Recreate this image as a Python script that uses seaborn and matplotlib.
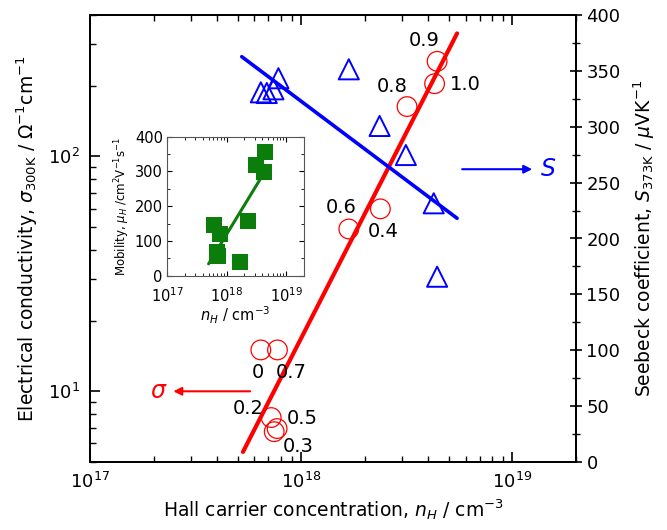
import numpy as np
import pandas as pd
import matplotlib
matplotlib.use("Agg")
import matplotlib.pyplot as plt
import seaborn as sns
from matplotlib.ticker import LogLocator, NullFormatter, MultipleLocator, FixedLocator

# ---------------- data ----------------
n_sigma = [6.44e17, 7.21e17, 7.45e17, 2.37e18, 7.69e17, 1.68e18, 7.72e17, 3.17e18, 4.40e18, 4.28e18]
sigma = [15.0, 7.73, 6.73, 59.8, 6.94, 49.1, 15.0, 163, 254, 204]
x_labels = ["0", "0.2", "0.3", "0.4", "0.5", "0.6", "0.7", "0.8", "0.9", "1.0"]

n_seebeck = [6.44e17, 6.87e17, 7.39e17, 7.80e17, 1.68e18, 2.35e18, 3.13e18, 4.24e18, 4.40e18]
seebeck = [330.8, 330.2, 333.5, 343.4, 351.4, 300.7, 274.7, 231.5, 165.8]

sigma_fit_n = [5.30e17, 5.47e18]
sigma_fit = [5.52, 334]
seebeck_fit_n = [5.23e17, 5.47e18]
seebeck_fit = [362.7, 218.1]

n_mob = [4.35e18, 3.15e18, 4.23e18, 6.22e17, 7.85e17, 2.31e18, 6.91e17, 7.27e17, 1.66e18]
mobility = [355, 319, 297, 146, 120, 156, 69, 57, 40]
mob_fit_n = [4.99e17, 3.63e18]
mob_fit = [34, 276]

# ---------------- style ----------------
sns.set_style("ticks")
plt.rcParams["font.family"] = ["DejaVu Sans"]
plt.rcParams["mathtext.fontset"] = "dejavusans"
for k in ("text.color", "axes.labelcolor", "xtick.color", "ytick.color", "axes.edgecolor"):
    plt.rcParams[k] = "black"

RED = "#ff0000"
BLUE = "#0000ff"
GREEN = "#0b7d0b"

fig = plt.figure(figsize=(6.67, 5.30), dpi=100)
ax = fig.add_axes([0.1349, 0.1283, 0.7287, 0.8434])
ax2 = ax.twinx()

df_s = pd.DataFrame({"n": n_sigma, "sigma": sigma, "label": x_labels})
df_S = pd.DataFrame({"n": n_seebeck, "S": seebeck})
df_sf = pd.DataFrame({"n": sigma_fit_n, "sigma": sigma_fit})
df_Sf = pd.DataFrame({"n": seebeck_fit_n, "S": seebeck_fit})

ax.set_xscale("log")
ax.set_yscale("log")

sns.lineplot(data=df_sf, x="n", y="sigma", ax=ax, color=RED, lw=3.0, zorder=2)
sns.scatterplot(data=df_s, x="n", y="sigma", ax=ax, marker="o", s=200,
                facecolor="none", edgecolor=RED, linewidth=0.9, zorder=3)

sns.lineplot(data=df_Sf, x="n", y="S", ax=ax2, color=BLUE, lw=2.6, zorder=2)
sns.scatterplot(data=df_S, x="n", y="S", ax=ax2, marker="^", s=210,
                facecolor="none", edgecolor=BLUE, linewidth=1.4, zorder=3)

ax.set_xlim(1e17, 2e19)
ax.set_ylim(5, 400)
ax2.set_ylim(0, 400)

# labels on circles
offsets = {"0": (-2, -16.6), "0.2": (-16.6, 6.5), "0.3": (17.3, -10.8),
           "0.4": (2, -16.6), "0.5": (18, 7.2), "0.6": (-5.8, 15.8),
           "0.7": (10, -16.6), "0.8": (-10.8, 14.8), "0.9": (-9.6, 15.1),
           "1.0": (22.1, -0.7)}
for xv, yv, lab in zip(n_sigma, sigma, x_labels):
    ax.annotate(lab, (xv, yv), xytext=offsets[lab], textcoords="offset points",
                ha="center", va="center", fontsize=14, color="black", zorder=5)

# sigma arrow
ax.annotate("", xy=(2.48e17, 10.0), xytext=(5.73e17, 10.0),
            arrowprops=dict(arrowstyle="-|>", color=RED, lw=1.5,
                            mutation_scale=12, shrinkA=0, shrinkB=0))
ax.text(2.11e17, 10.0, r"$\sigma$", color=RED, fontsize=17, ha="center",
        va="center")
# S arrow
ax2.annotate("", xy=(1.24e19, 262), xytext=(5.78e18, 262),
             arrowprops=dict(arrowstyle="-|>", color=BLUE, lw=1.5,
                             mutation_scale=12, shrinkA=0, shrinkB=0))
ax2.text(1.47e19, 262, r"$S$", color=BLUE, fontsize=17, ha="center", va="center")

# axes formatting
ax.set_xlabel(r"Hall carrier concentration, $n_H$ / cm$^{-3}$", fontsize=13.5, labelpad=4)
ax.set_ylabel(r"Electrical conductivity, $\sigma_{\rm 300K}$ / $\Omega^{-1}$cm$^{-1}$",
              fontsize=13.5, labelpad=6)
ax2.set_ylabel(r"Seebeck coefficient, $S_{\rm 373K}$ / $\mu$VK$^{-1}$", fontsize=13.5,
               labelpad=8)

ax.xaxis.set_major_locator(LogLocator(base=10, numticks=10))
ax.xaxis.set_minor_locator(LogLocator(base=10, subs=np.arange(2, 10), numticks=20))
ax.xaxis.set_minor_formatter(NullFormatter())
ax.yaxis.set_major_locator(LogLocator(base=10, numticks=10))
ax.yaxis.set_minor_locator(LogLocator(base=10, subs=np.arange(2, 10), numticks=20))
ax.yaxis.set_minor_formatter(NullFormatter())
ax.tick_params(axis="both", which="major", direction="in", length=7, width=1.2,
               labelsize=13, top=True, right=False, pad=7)
ax.tick_params(axis="both", which="minor", direction="in", length=4, width=1.0,
               top=True, right=False)
ax2.yaxis.set_major_locator(MultipleLocator(50))
ax2.yaxis.set_minor_locator(MultipleLocator(25))
ax2.tick_params(axis="y", which="major", direction="inout", length=9, width=1.2,
                labelsize=13, pad=3)
ax2.tick_params(axis="y", which="minor", direction="inout", length=6, width=1.0)
for a in (ax, ax2):
    for sp in a.spines.values():
        sp.set_linewidth(1.3)
        sp.set_color("black")
        sp.set_visible(True)

# ---------------- inset ----------------
axi = fig.add_axes([0.2504, 0.4798, 0.2054, 0.2626])
df_m = pd.DataFrame({"n": n_mob, "mu": mobility})
df_mf = pd.DataFrame({"n": mob_fit_n, "mu": mob_fit})
axi.set_xscale("log")
sns.lineplot(data=df_mf, x="n", y="mu", ax=axi, color=GREEN, lw=2.2, zorder=2)
sns.scatterplot(data=df_m, x="n", y="mu", ax=axi, marker="s", s=125,
                color=GREEN, edgecolor=GREEN, linewidth=0, zorder=3)
axi.set_xlim(1e17, 2e19)
axi.set_ylim(0, 400)
axi.xaxis.set_major_locator(FixedLocator([1e17, 1e18, 1e19]))
axi.xaxis.set_minor_locator(LogLocator(base=10, subs=np.arange(2, 10), numticks=20))
axi.xaxis.set_minor_formatter(NullFormatter())
axi.yaxis.set_major_locator(MultipleLocator(100))
axi.yaxis.set_minor_locator(MultipleLocator(50))
axi.tick_params(axis="both", which="major", direction="in", length=3.5, width=0.8,
                labelsize=10.5, top=True, right=True)
axi.tick_params(axis="x", which="major", pad=7.5)
axi.tick_params(axis="y", which="major", pad=3)
axi.tick_params(axis="both", which="minor", direction="in", length=2, width=0.6,
                top=True, right=True)
axi.set_xlabel(r"$n_H$ / cm$^{-3}$", fontsize=10.5, labelpad=0)
axi.set_ylabel(r"Mobility, $\mu_H$ /cm$^2$V$^{-1}$s$^{-1}$", fontsize=8.5, labelpad=2)
for sp in axi.spines.values():
    sp.set_linewidth(0.8)
    sp.set_color("#555555")

fig.savefig("out.png", dpi=100)
